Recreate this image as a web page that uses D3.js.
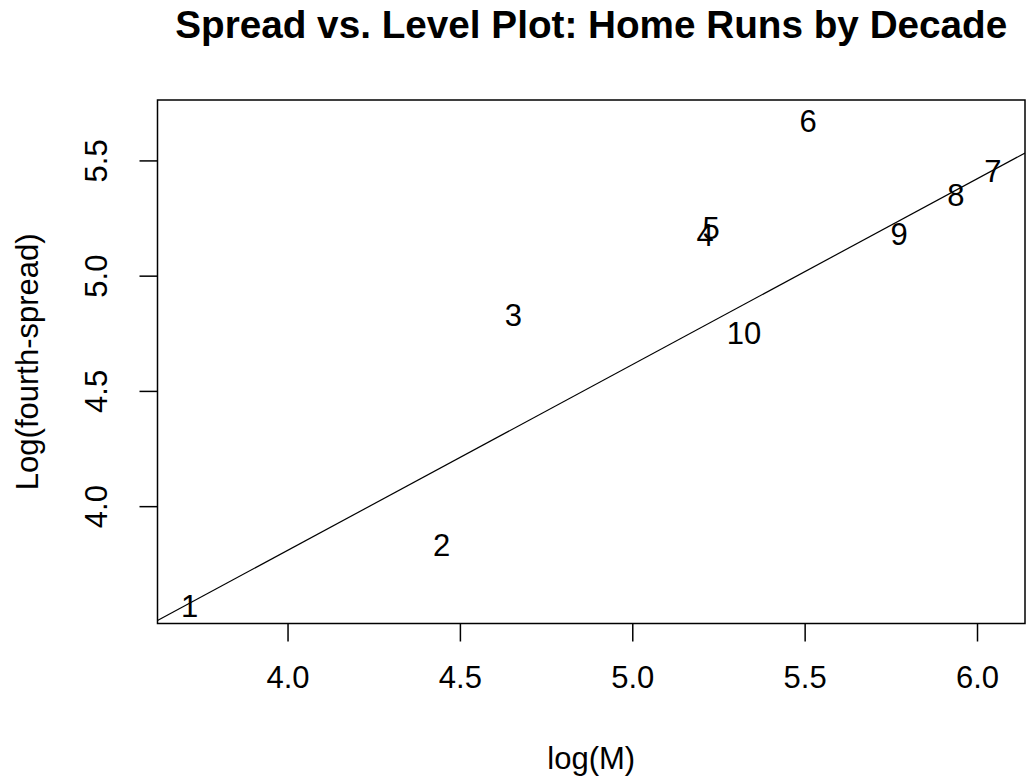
<!DOCTYPE html>
<html lang="en">
<head>
    <meta charset="UTF-8">
    <title>Spread vs. Level Plot</title>
    <style>
        body { margin: 0; background: #fff; }
        svg text { font-family: "Liberation Sans", Arial, sans-serif; fill: #000; }
    </style>
</head>
<body>
    <div id="chart"></div>

    <script src="https://d3js.org/d3.v7.min.js"></script>
    <script>
        // decade labels and their (log median, log fourth-spread) positions
        const decades = ["1", "2", "3", "4", "5", "6", "7", "8", "9", "10"];
        const logM = [3.716, 4.447, 4.655, 5.211, 5.229, 5.510, 6.046, 5.939, 5.774, 5.324];
        const logSpread = [3.575, 3.836, 4.837, 5.184, 5.214, 5.678, 5.461, 5.358, 5.185, 4.757];

        // fitted line: logSpread = intercept + slope * logM
        const fitIntercept = 0.584;
        const fitSlope = 0.806;

        const xTicks = [4.0, 4.5, 5.0, 5.5, 6.0];
        const yTicks = [4.0, 4.5, 5.0, 5.5];

        const width = 1026;
        const height = 779;
        const margin = { top: 100, right: 1, bottom: 155.5, left: 157.5 };

        const svg = d3.select("#chart").append("svg")
            .attr("width", width)
            .attr("height", height);

        // R style: pad the data range by 4% each side
        function padded(vals) {
            const [lo, hi] = d3.extent(vals);
            const d = (hi - lo) * 0.04;
            return [lo - d, hi + d];
        }

        const x = d3.scaleLinear()
            .domain(padded(logM))
            .range([margin.left, width - margin.right]);

        const y = d3.scaleLinear()
            .domain(padded(logSpread))
            .range([height - margin.bottom, margin.top]);

        const fontSize = 31;

        svg.append("defs").append("clipPath")
            .attr("id", "plotClip")
            .append("rect")
            .attr("x", margin.left)
            .attr("y", margin.top)
            .attr("width", width - margin.left - margin.right)
            .attr("height", height - margin.top - margin.bottom);

        // fitted line
        const [x0, x1] = x.domain();
        svg.append("line")
            .attr("clip-path", "url(#plotClip)")
            .attr("x1", x(x0))
            .attr("y1", y(fitIntercept + fitSlope * x0))
            .attr("x2", x(x1))
            .attr("y2", y(fitIntercept + fitSlope * x1))
            .attr("stroke", "#000")
            .attr("stroke-width", 1.2);

        // decade labels
        svg.selectAll(".pt")
            .data(decades)
            .enter()
            .append("text")
            .attr("class", "pt")
            .attr("x", (d, i) => x(logM[i]))
            .attr("y", (d, i) => y(logSpread[i]))
            .attr("dy", "0.4em")
            .attr("text-anchor", "middle")
            .style("font-size", fontSize + "px")
            .text(d => d);

        // axes
        const xAxis = svg.append("g")
            .attr("transform", `translate(0, ${height - margin.bottom})`)
            .call(d3.axisBottom(x).tickValues(xTicks).tickFormat(d3.format(".1f")).tickSize(18).tickPadding(24));
        xAxis.select(".domain").remove();
        xAxis.selectAll("line").attr("stroke", "#000").attr("stroke-width", 1.5);
        xAxis.selectAll("text").style("font-size", fontSize + "px").attr("font-family", null).attr("fill", "#000");

        const yAxis = svg.append("g")
            .attr("transform", `translate(${margin.left}, 0)`)
            .call(d3.axisLeft(y).tickValues(yTicks).tickFormat(d3.format(".1f")).tickSize(18));
        yAxis.select(".domain").remove();
        yAxis.selectAll("line").attr("stroke", "#000").attr("stroke-width", 1.5);
        yAxis.selectAll("text")
            .attr("x", null)
            .attr("dy", null)
            .attr("text-anchor", "middle")
            .attr("transform", "translate(-51, 0) rotate(-90)")
            .attr("y", 0)
            .style("font-size", fontSize + "px")
            .attr("fill", "#000");

        // plot box
        svg.append("rect")
            .attr("x", margin.left)
            .attr("y", margin.top)
            .attr("width", width - margin.left - margin.right)
            .attr("height", height - margin.top - margin.bottom)
            .attr("fill", "none")
            .attr("stroke", "#000")
            .attr("stroke-width", 1.5);

        const cx = (margin.left + width - margin.right) / 2;
        const cy = (margin.top + height - margin.bottom) / 2;

        svg.append("text")
            .attr("x", cx)
            .attr("y", 38)
            .attr("text-anchor", "middle")
            .style("font-size", "38.7px")
            .style("font-weight", "bold")
            .text("Spread vs. Level Plot: Home Runs by Decade");

        svg.append("text")
            .attr("x", cx)
            .attr("y", 769)
            .attr("text-anchor", "middle")
            .style("font-size", fontSize + "px")
            .text("log(M)");

        svg.append("text")
            .attr("transform", `translate(38, ${cy}) rotate(-90)`)
            .attr("text-anchor", "middle")
            .style("font-size", fontSize + "px")
            .text("Log(fourth-spread)");
    </script>
</body>
</html>
